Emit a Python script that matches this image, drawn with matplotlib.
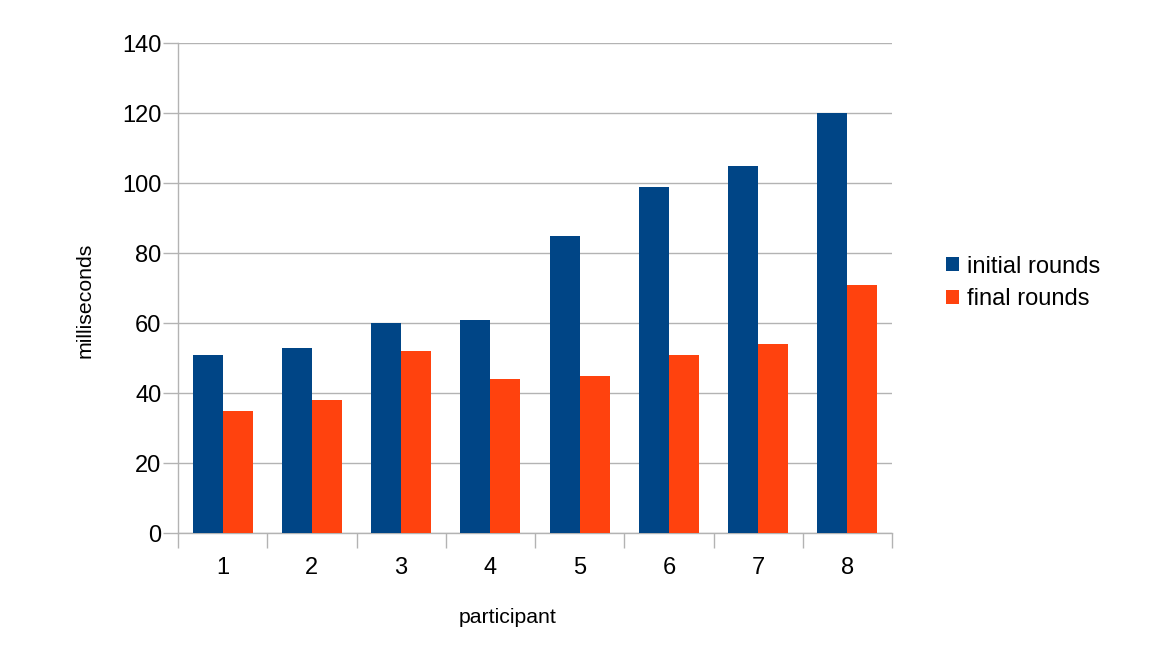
import matplotlib
matplotlib.use("Agg")
import matplotlib.pyplot as plt
import numpy as np
from matplotlib.patches import Patch

participants = ["1", "2", "3", "4", "5", "6", "7", "8"]
initial_rounds = [51, 53, 60, 61, 85, 99, 105, 120]
final_rounds = [35, 38, 52, 44, 45, 51, 54, 71]
series_names = ["initial rounds", "final rounds"]
colors = ["#004586", "#ff420e"]

plt.rcParams['font.family'] = ['Liberation Sans', 'DejaVu Sans']

fig = plt.figure(figsize=(11.64, 6.69), dpi=100)
ax = fig.add_axes([178/1164, 1-533/669, (892-178)/1164, (533-43)/669])

x = np.arange(len(participants))
w = 0.335
ax.bar(x - w/2, initial_rounds, width=w, color=colors[0], zorder=3)
ax.bar(x + w/2, final_rounds, width=w, color=colors[1], zorder=3)

ax.set_xlim(-0.5, len(participants) - 0.5)
ax.set_ylim(0, 140)
ax.set_yticks(np.arange(0, 141, 20))
ax.yaxis.grid(True, color="#b3b3b3", linewidth=1, zorder=0)
ax.set_xticks(x)
ax.set_xticklabels(participants)
ax.set_xticks(np.arange(-0.5, len(participants), 1), minor=True)
ax.tick_params(axis="x", which="major", length=0, pad=17, labelsize=17)
ax.tick_params(axis="x", which="minor", length=11, color="#b3b3b3", width=1)
ax.tick_params(axis="y", length=11, color="#b3b3b3", width=1, pad=1, labelsize=17)

for s in ["top", "right"]:
    ax.spines[s].set_visible(False)
for s in ["left", "bottom"]:
    ax.spines[s].set_color("#b3b3b3")
    ax.spines[s].set_linewidth(1)

ax.set_xlabel("participant", fontsize=15.3, labelpad=20)
ax.xaxis.set_label_coords(0.4615, -0.153)
ax.set_ylabel("milliseconds", fontsize=15.3)
ax.yaxis.set_label_coords(-0.117, 0.4755)

handles = [Patch(facecolor=c, edgecolor="none") for c in colors]
fig.legend(handles, series_names, loc="center left", bbox_to_anchor=(925/1164, 1-283/669),
           frameon=False, fontsize=17, handlelength=0.55, handleheight=0.55,
           handletextpad=0.32, labelspacing=0.45)

fig.savefig("out.png", dpi=100)
